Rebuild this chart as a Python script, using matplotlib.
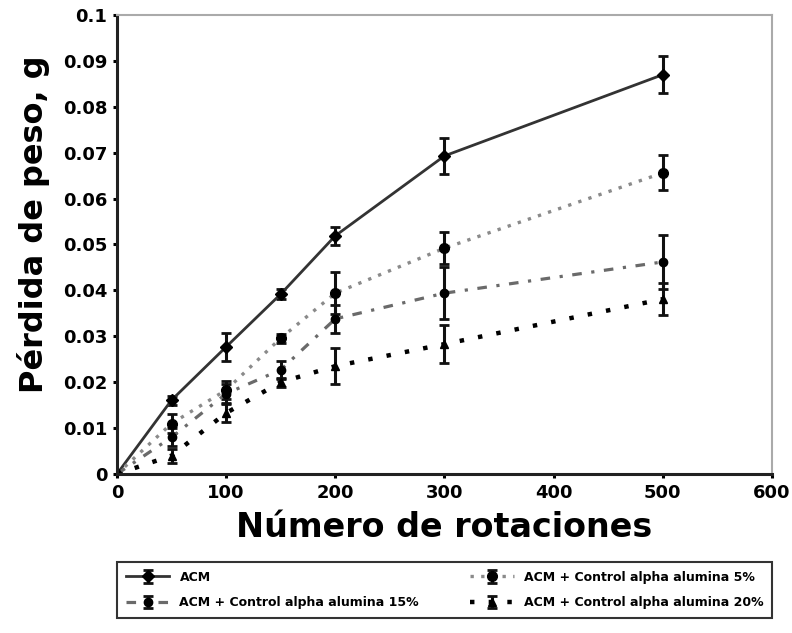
import matplotlib
matplotlib.use("Agg")
import matplotlib.pyplot as plt
import numpy as np

x = [0, 50, 100, 150, 200, 300, 500]

acm = [0.0, 0.0161, 0.0277, 0.0392, 0.0519, 0.0693, 0.0870]
acm_err = [0.0, 0.0010, 0.0030, 0.0010, 0.0020, 0.0040, 0.0040]

al5 = [0.0, 0.0110, 0.0183, 0.0296, 0.0394, 0.0492, 0.0656]
al5_err = [0.0, 0.0020, 0.0020, 0.0010, 0.0045, 0.0035, 0.0038]

al15 = [0.0, 0.0080, 0.0175, 0.0227, 0.0338, 0.0394, 0.0462]
al15_err = [0.0, 0.0020, 0.0020, 0.0020, 0.0030, 0.0057, 0.0058]

al20 = [0.0, 0.0040, 0.0133, 0.0200, 0.0235, 0.0283, 0.0381]
al20_err = [0.0, 0.0015, 0.0020, 0.0010, 0.0040, 0.0042, 0.0035]

labels = ["ACM", "ACM + Control alpha alumina 5%",
          "ACM + Control alpha alumina 15%", "ACM + Control alpha alumina 20%"]

fig = plt.figure(figsize=(7.92, 6.33), dpi=100)
ax = fig.add_axes([0.1477, 0.2512, 0.827, 0.7251])

common = dict(ecolor="#111111", elinewidth=2.2, capsize=3.5, capthick=2.0)

h1 = ax.errorbar(x, acm, yerr=acm_err, color="#333333", lw=2, ls="-",
                 marker="D", ms=6, mfc="black", mec="black", **common)
h2 = ax.errorbar(x, al5, yerr=al5_err, color="#8a8a8a", lw=2.4, ls=(0, (1, 2.2)),
                 marker="o", ms=7, mfc="black", mec="black", **common)
h3 = ax.errorbar(x, al15, yerr=al15_err, color="#6a6a6a", lw=2.3,
                 ls=(0, (3, 3, 1, 3)),
                 marker="o", ms=6, mfc="black", mec="black", **common)
h4 = ax.errorbar(x, al20, yerr=al20_err, color="#000000", lw=3.2, ls=(0, (1, 3.2)),
                 marker="^", ms=6, mfc="black", mec="black", **common)

ax.set_xlim(0, 600)
ax.set_ylim(0, 0.1)
ax.set_xticks([0, 100, 200, 300, 400, 500, 600])
ax.set_yticks([0, 0.01, 0.02, 0.03, 0.04, 0.05, 0.06, 0.07, 0.08, 0.09, 0.1])
ax.set_yticklabels(["0", "0.01", "0.02", "0.03", "0.04", "0.05", "0.06",
                    "0.07", "0.08", "0.09", "0.1"])

for s in ["left", "bottom"]:
    ax.spines[s].set_linewidth(2.2)
    ax.spines[s].set_color("#222222")
for s in ["top", "right"]:
    ax.spines[s].set_linewidth(1.5)
    ax.spines[s].set_color("#aaaaaa")

ax.tick_params(direction="out", length=3, width=2.2, labelsize=13, pad=4)
for lab in ax.get_xticklabels() + ax.get_yticklabels():
    lab.set_fontweight("bold")

ax.set_xlabel("Número de rotaciones", fontsize=24, fontweight="bold", labelpad=7)
ax.set_ylabel("Pérdida de peso, g", fontsize=23, fontweight="bold")
ax.yaxis.set_label_coords(-0.102, 0.545)

leg = fig.legend([h1, h3, h2, h4], [labels[0], labels[2], labels[1], labels[3]],
                 ncol=2, loc="upper left",
                 bbox_to_anchor=(0.1477, 0.017, 0.827, 0.095), mode="expand",
                 frameon=True, fancybox=False, edgecolor="black",
                 handlelength=3.5, borderaxespad=0.0, borderpad=0.7,
                 labelspacing=1.0,
                 prop={"weight": "bold", "size": 9})
leg.get_frame().set_linewidth(1.5)

fig.savefig("out.png", dpi=100)
